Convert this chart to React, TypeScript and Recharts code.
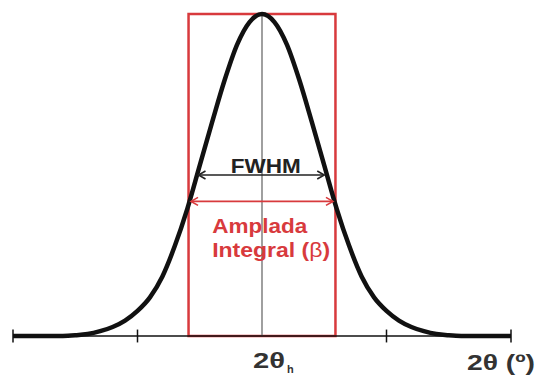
import React from "react";
import { ComposedChart, Line, XAxis, YAxis, ReferenceLine, ReferenceArea, ReferenceDot } from "recharts";

// peak profile (2θ offset from 2θh, relative intensity)
const TWO_THETA = [
  -2, -1.9, -1.8, -1.7, -1.6, -1.5, -1.4, -1.3, -1.2, -1.1, -1, -0.9, -0.8, -0.7, -0.6, -0.5, -0.4, -0.3, -0.2, -0.1,
  0, 0.1, 0.2, 0.3, 0.4, 0.5, 0.6, 0.7, 0.8, 0.9, 1, 1.1, 1.2, 1.3, 1.4, 1.5, 1.6, 1.7, 1.8, 1.9, 2,
];
const INTENSITY = [
  0, 0, 0, 0, 0, 0.002, 0.006, 0.015, 0.028, 0.048, 0.078, 0.12, 0.185, 0.28, 0.395, 0.53, 0.665, 0.795, 0.905, 0.975,
  1, 0.975, 0.905, 0.795, 0.665, 0.53, 0.395, 0.28, 0.185, 0.12, 0.078, 0.048, 0.028, 0.015, 0.006, 0.002, 0, 0, 0, 0, 0,
];
const AXIS_MARKS = [-2, -1, 1, 2];
const LABEL_TICKS = [0, 2];
const FWHM_SPAN = [-0.51, 0.5];
const FWHM_LEVEL = 0.5;
const BETA_SPAN = [-0.57, 0.57];
const BETA_LEVEL = 0.418;
const BETA_BOX = [-0.59, 0.59];

const data = TWO_THETA.map((x, i) => ({ x, y: INTENSITY[i] }));

const RED = "#d83a3d";
const FONT = "'Liberation Sans', Arial, sans-serif";

const ArrowLine = (p: any) => {
  const { x1, y1, x2, y2, stroke } = p;
  const h = 7;
  const w = 4;
  return (
    <g stroke={stroke} strokeWidth={1.6} fill="none">
      <line x1={x1} y1={y1} x2={x2} y2={y2} />
      <polyline points={`${x1 + h},${y1 - w} ${x1},${y1} ${x1 + h},${y1 + w}`} />
      <polyline points={`${x2 - h},${y2 - w} ${x2},${y2} ${x2 - h},${y2 + w}`} />
    </g>
  );
};

const AxisLabel = (p: any) => {
  const { x, y, payload } = p;
  if (payload.value === 0) {
    return (
      <text x={x - 9} y={y + 32} fill="#333" fontFamily={FONT} fontWeight="bold">
        <tspan fontSize={22} textLength={32} lengthAdjust="spacingAndGlyphs">2θ</tspan>
        <tspan fontSize={11} dx={2} dy={5}>h</tspan>
      </text>
    );
  }
  return (
    <text x={x - 44} y={y + 34} fill="#333" fontFamily={FONT} fontWeight="bold" fontSize={22}
      textLength={68} lengthAdjust="spacingAndGlyphs">
      2θ (º)
    </text>
  );
};

const Note = (text: React.ReactNode, opts: any) => (p: any) => (
  <text x={p.cx} y={p.cy} fill={opts.fill} fontFamily={FONT} fontWeight="bold" fontSize={opts.size}
    textAnchor={opts.anchor || "start"} textLength={opts.len} lengthAdjust="spacingAndGlyphs">
    {text}
  </text>
);

export default function App() {
  return (
    <div style={{ position: "absolute", left: 0, top: 0, background: "#fff" }}>
      <ComposedChart width={537} height={376} data={data} margin={{ top: 14, right: 26, bottom: 0, left: 13 }}>
        <XAxis dataKey="x" type="number" domain={[-2, 2]} ticks={LABEL_TICKS} height={40}
          axisLine={{ stroke: "#111", strokeWidth: 1.5 }} tickLine={false} tickSize={0} tickMargin={0}
          tick={AxisLabel} interval={0} />
        <YAxis type="number" domain={[0, 1]} hide />
        <ReferenceArea x1={BETA_BOX[0]} x2={BETA_BOX[1]} y1={0} y2={1} fill="none" fillOpacity={0}
          stroke={RED} strokeWidth={2.5} ifOverflow="visible" />
        <ReferenceLine x={0} stroke="#777" strokeWidth={1.4} />
        {AXIS_MARKS.map((m) => (
          <ReferenceLine key={m} segment={[{ x: m, y: -0.02 }, { x: m, y: 0.02 }]} stroke="#111" strokeWidth={1.5}
            ifOverflow="visible" />
        ))}
        <Line dataKey="y" type="monotone" stroke="#111" strokeWidth={4.5} dot={false} activeDot={false}
          isAnimationActive={false} />
        <ReferenceLine segment={[{ x: FWHM_SPAN[0], y: FWHM_LEVEL }, { x: FWHM_SPAN[1], y: FWHM_LEVEL }]}
          stroke="#222" shape={ArrowLine} />
        <ReferenceLine segment={[{ x: BETA_SPAN[0], y: BETA_LEVEL }, { x: BETA_SPAN[1], y: BETA_LEVEL }]}
          stroke={RED} shape={ArrowLine} />
        <ReferenceDot x={0.03} y={0.506} r={0} shape={Note("FWHM", { fill: "#222", size: 20, anchor: "middle", len: 70 })} />
        <ReferenceDot x={-0.4} y={0.32} r={0} shape={Note("Amplada", { fill: RED, size: 21, len: 95 })} />
        <ReferenceDot x={-0.4} y={0.245} r={0}
          shape={Note(<>Integral (<tspan fontWeight="normal">β</tspan>)</>, { fill: RED, size: 21, len: 118 })} />
      </ComposedChart>
    </div>
  );
}
